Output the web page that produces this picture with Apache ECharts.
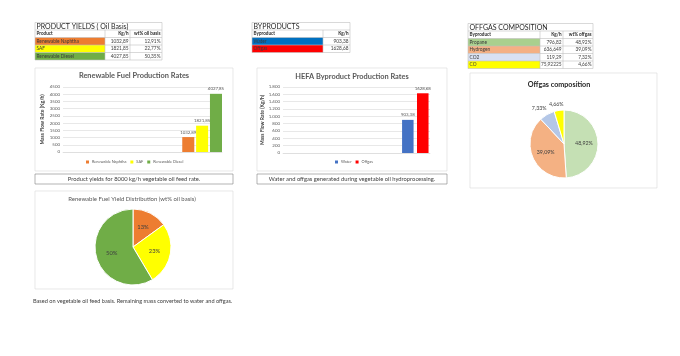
<!DOCTYPE html>
<html>
<head>
<meta charset="utf-8">
<script src="https://cdn.jsdelivr.net/npm/echarts@6/dist/echarts.min.js"></script>
<style>
  html, body { margin: 0; padding: 0; background: #fff; }
  #main { width: 680px; height: 356px; }
</style>
</head>
<body>
<div id="main"></div>
<script>
// table / chart data (read from the sheet)
var prodNames = ['Renewable Naphtha', 'SAF', 'Renewable Diesel'];
var prodKgh = [1032.89, 1821.85, 4027.85];
var prodWt = [12.91, 22.77, 50.35];
var prodColors = ['#ED7D31', '#FFFF00', '#70AD47'];

var byNames = ['Water', 'Offgas'];
var byKgh = [903.38, 1628.68];
var byColors = ['#4472C4', '#FF0000'];
var byCellColors = ['#0070C0', '#FF0000'];

var gasNames = ['Propane', 'Hydrogen', 'CO2', 'CO'];
var gasKgh = [796.82, 636.649, 119.29, 75.92225];
var gasWt = [48.92, 39.09, 7.32, 4.66];
var gasColors = ['#C5E0B4', '#F4B183', '#B4C7E7', '#FFFF00'];
var gasCellColors = ['#A9D08E', '#F4B084', '#D9E1F2', '#FFFF00'];

// the bar charts' ranges include empty rows -> empty category slots
var slots1 = ['', '', '', ''];
var slots2 = ['', '', '', '', ''];

var FONT = 'Lato, "Open Sans", sans-serif';
var comma = function (v) { return String(v).replace('.', ','); };

function lastSlot(slots, v) {
  return slots.map(function (c, i) { return i === slots.length - 1 ? v : null; });
}

// graphic helpers
var G = [];
function txt(x, y, s, size, color, align, weight) {
  G.push({
    type: 'text', x: x, y: y, z: 50,
    style: {
      text: s, fill: color || '#333',
      font: (weight || 'normal') + ' ' + size + 'px ' + FONT,
      textAlign: align || 'left', align: align || 'left',
      textVerticalAlign: 'middle', verticalAlign: 'middle'
    }
  });
}
function box(x, y, w, h, stroke, fill) {
  G.push({
    type: 'rect', z: fill ? 40 : 45,
    shape: { x: x, y: y, width: w, height: h },
    style: { fill: fill || 'none', stroke: stroke || 'none', lineWidth: 0.6 }
  });
}

// generic sheet table
function table(x0, y0, cols, title, header, rows, fills) {
  var rh = 7.5;
  var nRows = rows.length + 2;
  var right = cols[cols.length - 1];
  // row fills (first column only)
  rows.forEach(function (r, i) {
    box(x0, y0 + rh * (i + 2), cols[0] - x0, rh, null, fills[i]);
  });
  box(x0, y0, right - x0, rh * nRows, '#BFBFBF');
  for (var k = 1; k < nRows; k++) {
    G.push({ type: 'line', z: 45, shape: { x1: x0, y1: y0 + rh * k, x2: right, y2: y0 + rh * k },
      style: { stroke: '#BFBFBF', lineWidth: 0.6 } });
  }
  var edges = [x0].concat(cols);
  for (var c = 0; c < cols.length - 1; c++) {
    G.push({ type: 'line', z: 45, shape: { x1: cols[c], y1: y0 + rh, x2: cols[c], y2: y0 + rh * nRows },
      style: { stroke: '#BFBFBF', lineWidth: 0.6 } });
  }
  txt(x0 + 1.5, y0 + rh / 2 + 0.5, title, 7, '#262626');
  header.forEach(function (h, c) {
    if (c === 0) txt(x0 + 1.5, y0 + rh * 1.5, h, 4.6, '#262626', 'left', 'bold');
    else txt(edges[c + 1] - 1.5, y0 + rh * 1.5, h, 4.6, '#262626', 'right', 'bold');
  });
  rows.forEach(function (r, i) {
    r.forEach(function (v, c) {
      var yy = y0 + rh * (i + 2.5);
      if (c === 0) txt(x0 + 1.5, yy, v, 4.8, '#3a3a3a');
      else txt(edges[c + 1] - 1.5, yy, v, 4.8, '#404040', 'right');
    });
  });
}

table(35, 22.5, [105, 130, 162], 'PRODUCT YIELDS ( Oil Basis)', ['Product', 'Kg/h', 'wt% oil basis'],
  prodNames.map(function (n, i) { return [n, comma(prodKgh[i]), comma(prodWt[i].toFixed(2)) + '%']; }), prodColors);
table(252, 22.5, [323, 350], 'BYPRODUCTS', ['Byproduct', 'Kg/h'],
  byNames.map(function (n, i) { return [n, comma(byKgh[i])]; }), byCellColors);
table(468, 23.5, [540, 563, 593], 'OFFGAS COMPOSITION', ['Byproduct', 'Kg/h', 'wt% offgas'],
  gasNames.map(function (n, i) { return [n, comma(gasKgh[i]), comma(gasWt[i].toFixed(2)) + '%']; }), gasCellColors);

// chart frames
box(35, 68, 198, 103, '#D9D9D9');
box(257, 68, 190, 103, '#D9D9D9');
box(470, 73, 187, 115, '#D9D9D9');
box(35, 191, 198, 98, '#D9D9D9');

// captions
box(35, 174, 198, 10, '#7F7F7F');
txt(134, 179.2, 'Product yields for 8000 kg/h vegetable oil feed rate.', 5.8, '#404040', 'center');
box(257, 174, 190, 10, '#7F7F7F');
txt(352, 179.2, 'Water and offgas generated during vegetable oil hydroprocessing.', 5.8, '#404040', 'center');
txt(33, 301, 'Based on vegetable oil feed basis. Remaining mass converted to water and offgas.', 5.6, '#404040');

// chart titles
txt(134, 76, 'Renewable Fuel Production Rates', 7.4, '#595959', 'center', 'bold');
txt(352, 77, 'HEFA Byproduct Production Rates', 7.4, '#595959', 'center', 'bold');
txt(559, 85, 'Offgas composition', 7.2, '#262626', 'center', 'bold');
txt(132, 199, 'Renewable Fuel Yield Distribution (wt% oil basis)', 6, '#595959', 'center');

var axisLbl = { fontSize: 4.4, color: '#595959', fontFamily: FONT, margin: 3 };
var yName = { fontSize: 5, color: '#404040', fontWeight: 'bold', fontFamily: FONT };
var barLbl = function (size) {
  return { show: true, position: 'top', distance: 3, fontSize: size, color: '#595959', fontFamily: FONT,
    formatter: function (p) { return comma(p.value.toFixed(2)); } };
};
var legTxt = { fontSize: 3.9, color: '#595959', fontFamily: FONT, padding: [0, 0, 0, -2] };

var series = [];
prodNames.forEach(function (n, i) {
  series.push({ name: n, type: 'bar', xAxisIndex: 0, yAxisIndex: 0,
    data: lastSlot(slots1, prodKgh[i]), itemStyle: { color: prodColors[i] },
    barCategoryGap: '0%', barGap: '15%', label: barLbl(4.4) });
});
byNames.forEach(function (n, i) {
  series.push({ name: n, type: 'bar', xAxisIndex: 1, yAxisIndex: 1,
    data: lastSlot(slots2, byKgh[i]), itemStyle: { color: byColors[i] },
    barCategoryGap: '10%', barGap: '30%', label: barLbl(4.4) });
});

var gasOffsets = [[0, 0], [0, 0], [8, -4], [12, -3]];
series.push({
  type: 'pie', center: [564, 144], radius: 34, startAngle: 90, clockwise: true,
  avoidLabelOverlap: false,
  itemStyle: { borderColor: '#fff', borderWidth: 1 },
  labelLine: { show: false, length: 3, length2: 2 },
  label: { fontSize: 5.3, color: '#404040', fontFamily: FONT,
    formatter: function (p) { return comma(p.percent.toFixed(2)) + '%'; } },
  data: gasNames.map(function (n, i) {
    return { name: n, value: gasKgh[i], itemStyle: { color: gasColors[i] },
      label: { position: i < 2 ? 'inside' : 'outside', offset: gasOffsets[i] } };
  })
});

series.push({
  type: 'pie', center: [133, 247], radius: 38, startAngle: 90, clockwise: true,
  itemStyle: { borderColor: '#fff', borderWidth: 1 },
  label: { position: 'inside', fontSize: 5.8, color: '#404040', fontFamily: FONT,
    formatter: function (p) { return Math.round(p.value) + '%'; } },
  labelLine: { show: false },
  data: prodNames.map(function (n, i) {
    return { name: n, value: prodWt[i], itemStyle: { color: prodColors[i] } };
  })
});

var chart = echarts.init(document.getElementById('main'));
chart.setOption({
  animation: false,
  backgroundColor: '#fff',
  grid: [
    { left: 63, right: 458, top: 87, bottom: 204 },
    { left: 283, right: 250, top: 87, bottom: 203 }
  ],
  xAxis: [
    { type: 'category', gridIndex: 0, data: slots1, axisTick: { show: false }, axisLabel: { show: false },
      axisLine: { lineStyle: { color: '#D9D9D9', width: 0.6 } } },
    { type: 'category', gridIndex: 1, data: slots2, axisTick: { show: false }, axisLabel: { show: false },
      axisLine: { lineStyle: { color: '#D9D9D9', width: 0.6 } } }
  ],
  yAxis: [
    { type: 'value', gridIndex: 0, min: 0, max: 4500, interval: 500,
      name: 'Mass Flow Rate (Kg/h)', nameLocation: 'middle', nameGap: 18, nameTextStyle: yName,
      axisLabel: Object.assign({ formatter: function (v) { return String(v); } }, axisLbl),
      splitLine: { lineStyle: { color: '#D9D9D9', width: 0.6 } } },
    { type: 'value', gridIndex: 1, min: 0, max: 1800, interval: 200,
      name: 'Mass Flow Rate (Kg/h)', nameLocation: 'middle', nameGap: 17, nameTextStyle: yName,
      axisLabel: Object.assign({ formatter: function (v) {
        return v >= 1000 ? Math.floor(v / 1000) + '.' + String(v % 1000).padStart(3, '0') : String(v);
      } }, axisLbl),
      splitLine: { lineStyle: { color: '#D9D9D9', width: 0.6 } } }
  ],
  legend: [
    { data: prodNames, left: 86, top: 160, itemWidth: 3, itemHeight: 3, itemGap: 4, icon: 'rect',
      padding: 0, textStyle: legTxt },
    { data: byNames, left: 335, top: 160, itemWidth: 3, itemHeight: 3, itemGap: 4, icon: 'rect',
      padding: 0, textStyle: legTxt }
  ],
  series: series,
  graphic: { elements: G }
});
</script>
</body>
</html>
